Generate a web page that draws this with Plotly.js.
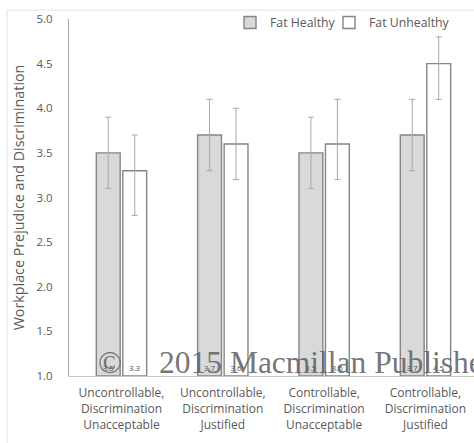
<!DOCTYPE html>
<html>
<head>
<meta charset="utf-8">
<script src="https://cdn.plot.ly/plotly-3.0.1.min.js"></script>
<style>html,body{margin:0;padding:0;background:#fff;}#chart{width:474px;height:443px;}</style>
</head>
<body>
<div id="chart"></div>
<script>
var categories = [
  "Uncontrollable,<br>Discrimination<br>Unacceptable",
  "Uncontrollable,<br>Discrimination<br>Justified",
  "Controllable,<br>Discrimination<br>Unacceptable",
  "Controllable,<br>Discrimination<br>Justified"
];
var healthyValues = [3.5, 3.7, 3.5, 3.7];
var healthyErrPlus = [0.4, 0.4, 0.4, 0.4];
var healthyErrMinus = [0.4, 0.4, 0.4, 0.4];
var unhealthyValues = [3.3, 3.6, 3.6, 4.5];
var unhealthyErrPlus = [0.4, 0.4, 0.5, 0.3];
var unhealthyErrMinus = [0.5, 0.4, 0.4, 0.4];
var axisMin = 1.0;
var yTicks = [1.0, 1.5, 2.0, 2.5, 3.0, 3.5, 4.0, 4.5, 5.0];
var yTickText = ["1.0", "1.5", "2.0", "2.5", "3.0", "3.5", "4.0", "4.5", "5.0"];

var FONT = "'Open Sans', Lato, sans-serif";
var labelFont = {family: FONT, size: 8, color: "#505050"};

function barTrace(name, vals, plus, minus, fill, legendId) {
  return {
    type: "bar", name: name, x: categories, legend: legendId,
    base: axisMin, y: vals.map(function(v){return v - axisMin;}),
    marker: {color: fill, line: {color: "#858585", width: 1.4}},
    error_y: {type: "data", array: plus, arrayminus: minus, symmetric: false,
              color: "#a8a8a8", thickness: 1, width: 3},
    text: vals.map(function(v){return v.toFixed(1);}),
    textposition: "inside", insidetextanchor: "start", textangle: 0,
    textfont: labelFont, constraintext: "none"
  };
}

var traces = [
  barTrace("Fat Healthy", healthyValues, healthyErrPlus, healthyErrMinus, "#d9d9d9", "legend"),
  barTrace("Fat Unhealthy", unhealthyValues, unhealthyErrPlus, unhealthyErrMinus, "#ffffff", "legend2")
];

var legendFont = {size: 12.3, color: "#595959"};

var layout = {
  width: 474, height: 443,
  margin: {l: 69, r: 0, t: 19, b: 67},
  paper_bgcolor: "#ffffff", plot_bgcolor: "#ffffff",
  barmode: "group", bargap: 0.477, bargroupgap: 0.1,
  font: {family: FONT, color: "#595959"},
  showlegend: true,
  legend: {orientation: "h", x: 0.3975, xanchor: "left", y: 0.99, yanchor: "middle",
           font: legendFont, bgcolor: "rgba(0,0,0,0)", itemwidth: 30},
  legend2: {orientation: "h", x: 0.642, xanchor: "left", y: 0.99, yanchor: "middle",
           font: legendFont, bgcolor: "rgba(0,0,0,0)", itemwidth: 30},
  xaxis: {
    range: [-0.518, 3.479], showgrid: false, zeroline: false,
    showline: true, linecolor: "#c8c8c8", linewidth: 1,
    ticks: "", tickfont: {size: 12, color: "#595959"}, tickangle: 0,
    ticklabelstandoff: 6
  },
  yaxis: {
    range: [1, 5], tickvals: yTicks, ticktext: yTickText, showgrid: false, zeroline: false,
    showline: true, linecolor: "#a6a6a6", linewidth: 1, ticks: "",
    ticklabelstandoff: 13,
    tickfont: {size: 11.5, color: "#595959"},
    title: {text: "Workplace Prejudice and Discrimination", font: {size: 14.3, color: "#595959"}, standoff: 8}
  },
  shapes: [
    {type: "rect", xref: "paper", yref: "paper", x0: -0.153, x1: 1.02, y0: -0.3, y1: 1.025,
     line: {color: "#e3e3e3", width: 1}, fillcolor: "rgba(0,0,0,0)", layer: "below"}
  ],
  annotations: [
    {text: "©", xref: "paper", yref: "y", x: 0.066, y: 1.0, yshift: -6,
     xanchor: "left", yanchor: "bottom", showarrow: false,
     font: {family: "'Liberation Serif', 'DejaVu Serif', serif", size: 31.5, color: "rgba(100,100,100,0.9)"}},
    {text: "2015 Macmillan Publishers", xref: "paper", yref: "y", x: 0.217, y: 1.0, yshift: -6,
     xanchor: "left", yanchor: "bottom", showarrow: false,
     font: {family: "'Liberation Serif', 'DejaVu Serif', serif", size: 31.5, color: "rgba(100,100,100,0.9)"}}
  ]
};

Plotly.newPlot("chart", traces, layout, {staticPlot: true, displayModeBar: false});
</script>
</body>
</html>
